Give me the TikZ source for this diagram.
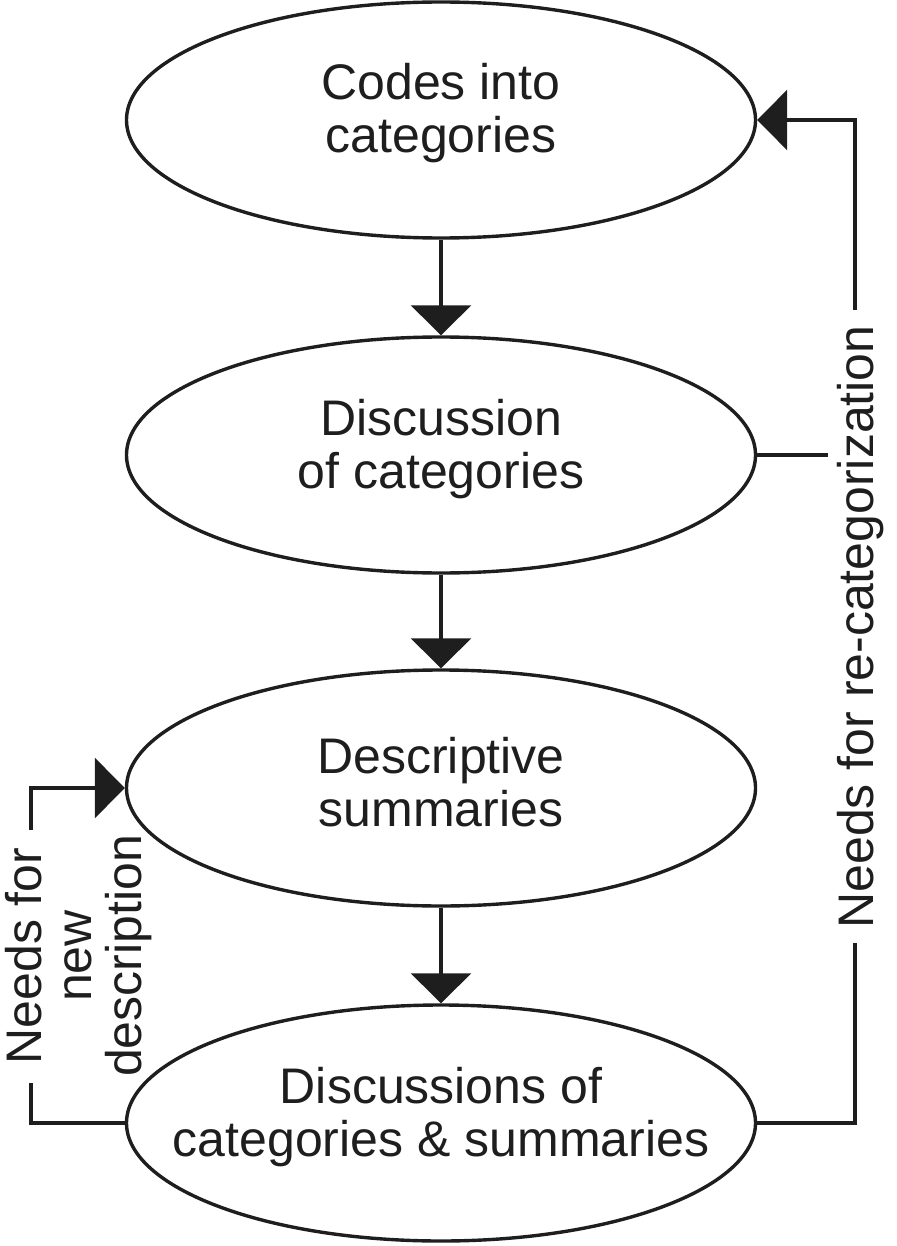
\documentclass[tikz,border=0pt]{standalone}
\usepackage{fontspec}
\setmainfont{Liberation Sans}
\usetikzlibrary{shapes.geometric,arrows.meta}
\definecolor{ink}{RGB}{30,30,30}
\begin{document}
\begin{tikzpicture}[x=1pt,y=-1pt,
  line width=3.2pt, draw=ink,
  stage/.style={ellipse, draw=ink, line width=3.4pt, minimum width=629pt, minimum height=236pt, inner sep=0pt},
  stagetext/.style={align=center, text=ink, inner sep=0pt, font=\fontsize{50}{53}\selectfont},
  sidetext/.style={rotate=90, align=center, text=ink, inner sep=0pt, font=\fontsize{50}{50}\selectfont},
  arr/.style={-{Triangle[length=30pt,width=60pt]}},
]
\useasboundingbox (0,0) rectangle (896,1246);
\node[stage] (e1) at (441,120) {};
\node[stage] (e2) at (441,455) {};
\node[stage] (e3) at (441,788) {};
\node[stage] (e4) at (441,1123) {};
\node[stagetext] (t1) at (441,113) {Codes into\\categories};
\node[stagetext] (t2) at (441,449) {Discussion\\of categories};
\node[stagetext] (t3) at (441,782) {Descriptive\\summaries};
\node[stagetext] (t4) at (441,1117) {Discussions of\\categories \& summaries};

\draw[arr] (e1.south) -- (e2.north);
\draw[arr] (e2.south) -- (e3.north);
\draw[arr] (e3.south) -- (e4.north);

% right feedback loop
\node[sidetext] (lr) at (861,627) {Needs for re-categorization};
\coordinate (rtop) at (855,310);
\coordinate (rbot) at (855,943);
\coordinate (rstub) at (828,455);
\draw[arr] (rtop) |- (e1.east);
\draw (e4.east) -| (rbot);
\draw (e2.east) -- (rstub);

% left feedback loop
\node[sidetext] (ll) at (79,956) {Needs for\\new\\description};
\coordinate (ltop) at (31,830);
\coordinate (lbot) at (31,1083);
\draw[arr] (ltop) |- (e3.west);
\draw (e4.west) -| (lbot);
\end{tikzpicture}
\end{document}
